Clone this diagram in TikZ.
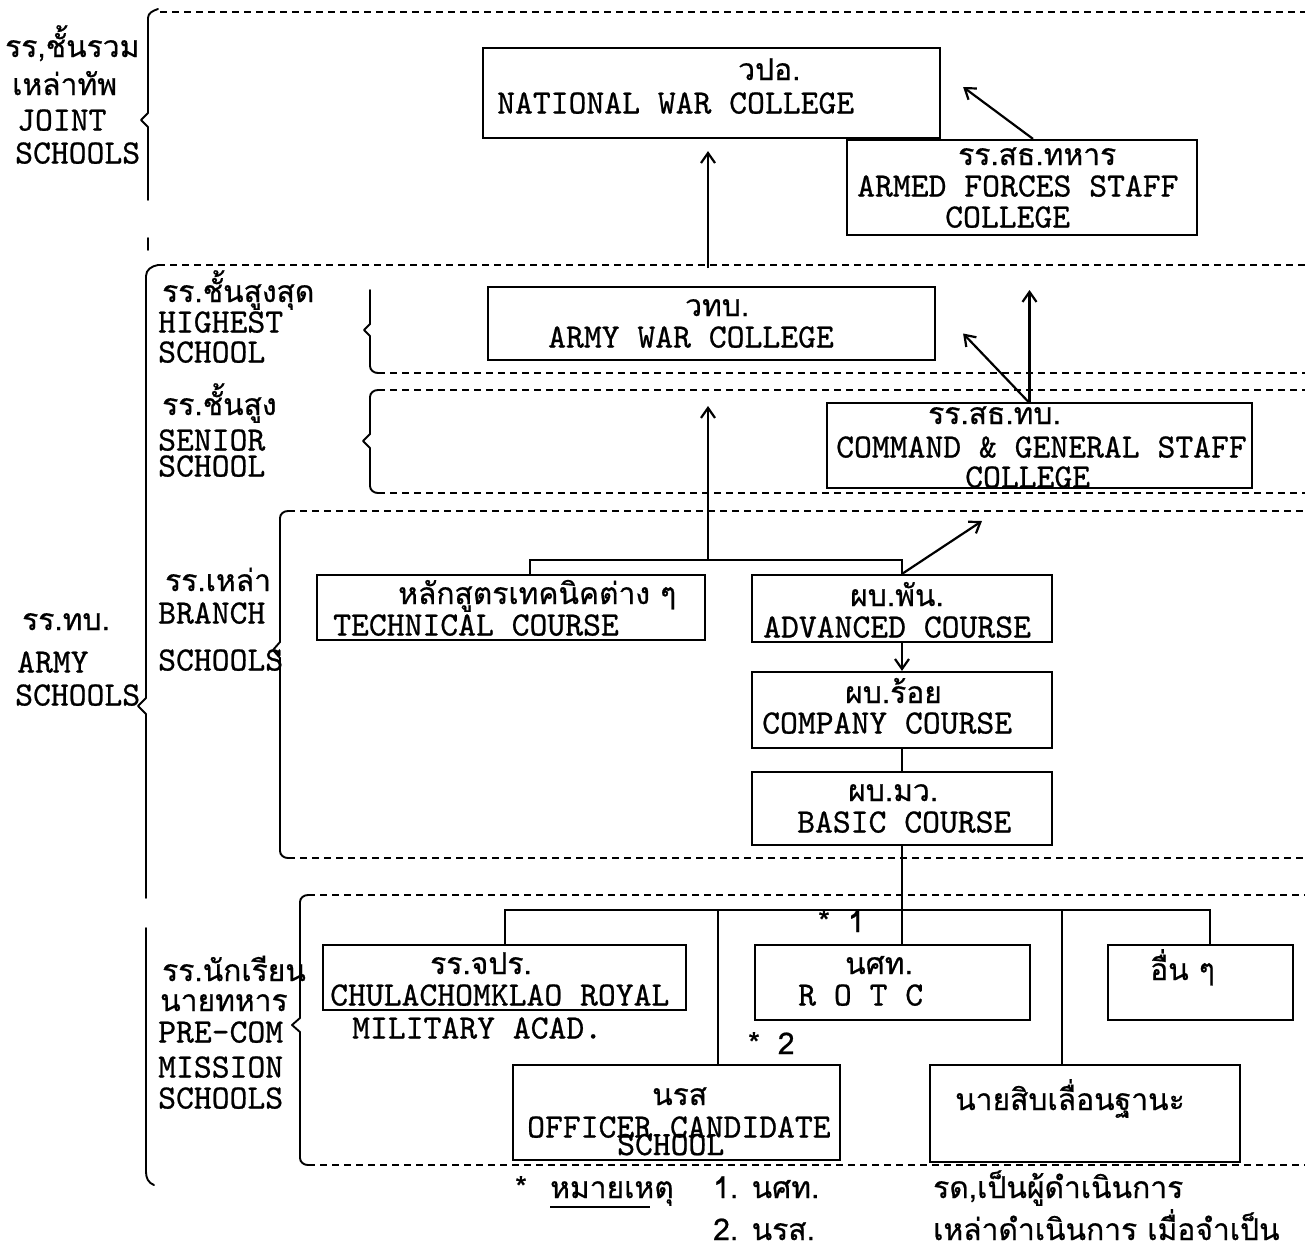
\documentclass[tikz,border=0pt]{standalone}
\usepackage{fontspec}
\setmainfont{Liberation Mono}
\newfontfamily\thaifam{Loma}[Script=Thai,FakeBold=0.6]
\newfontfamily\latfam{lmmono10-regular.otf}[FakeBold=0.7]
\usetikzlibrary{arrows.meta,calc}
\newcommand\thx{\thaifam\fontsize{30}{30}\selectfont}
\newcommand\latx{\latfam\fontsize{34}{30}\selectfont}
\tikzset{
  box/.style={draw, line width=2.2pt, inner sep=0pt},
  lt/.style={inner sep=0pt, anchor=base west, font=\latx},
  tt/.style={inner sep=0pt, anchor=base west, font=\thx},
  dline/.style={line width=1.5pt, dash pattern=on 7pt off 5pt},
  brk/.style={line width=1.9pt, line cap=round, line join=round},
  conn/.style={line width=2.2pt},
  arr/.style={line width=2.2pt, -{Straight Barb[length=10pt,width=14pt,line width=2.2pt]}},
}
\begin{document}
\begin{tikzpicture}[x=1pt,y=-1pt]
\useasboundingbox (0,0) rectangle (1311,1258);
\fill[white] (0,0) rectangle (1311,1258);

% ---------- dashed section lines ----------
\draw[dline] (160,12) -- (1305,12);
\draw[dline] (158,265) -- (1305,265);
\draw[dline] (378,373) -- (1305,373);
\draw[dline] (378,390) -- (1305,390);
\draw[dline] (378,493) -- (1305,493);
\draw[dline] (288,511) -- (1305,511);
\draw[dline] (288,858) -- (1305,858);
\draw[dline] (308,895) -- (1305,895);
\draw[dline] (308,1165) -- (1305,1165);

% ---------- brackets ----------
\draw[brk] (158,9) to[out=200,in=90] (148,18) -- (148,113) -- (141,120) -- (148,127) -- (148,200);
\draw[brk] (148,238) -- (148,250);
\draw[brk] (158,265) to[out=190,in=90] (146,276) -- (146,698) -- (138,706) -- (146,714) -- (146,898);
\draw[brk] (146,928) -- (146,1172) to[out=-90,in=160] (154,1185);
\draw[brk] (370,290) -- (370,324) -- (364,330) -- (370,336) -- (370,366) to[out=-90,in=180] (378,373);
\draw[brk] (378,390) to[out=180,in=90] (370,397) -- (370,434) -- (363,441) -- (370,448) -- (370,486) to[out=-90,in=180] (378,493);
\draw[brk] (288,511) to[out=180,in=90] (280,518) -- (280,642) -- (273,650) -- (280,658) -- (280,851) to[out=-90,in=180] (288,858);
\draw[brk] (308,895) to[out=180,in=90] (300,902) -- (300,1018) -- (292,1025) -- (300,1032) -- (300,1158) to[out=-90,in=180] (308,1165);

% ---------- left labels ----------
\node[tt] (j1t) at (5,57) {รร,ชั้นรวม};
\node[tt] (j2t) at (12,95) {เหล่าทัพ};
\node[lt] (j3t) at (17,130.5) {JOINT};
\node[lt] (j4t) at (15,163.5) {SCHOOLS};

\node[tt] (h1t) at (162,302) {รร.ชั้นสูงสุด};
\node[lt] (h2t) at (158,332.5) {HIGHEST};
\node[lt] (h3t) at (158,362.5) {SCHOOL};

\node[tt] (s1t) at (162,415) {รร.ชั้นสูง};
\node[lt] (s2t) at (158,450.5) {SENIOR};
\node[lt] (s3t) at (158,476.5) {SCHOOL};

\node[tt] (b1t) at (165,591) {รร.เหล่า};
\node[lt] (b2t) at (158,623.5) {BRANCH};
\node[lt] (b3t) at (158,670.5) {SCHOOLS};

\node[tt] (a1t) at (22,630) {รร.ทบ.};
\node[lt] (a2t) at (17,672.5) {ARMY};
\node[lt] (a3t) at (15,705.5) {SCHOOLS};

\node[tt] (p1t) at (162,981) {รร.นักเรียน};
\node[tt] (p2t) at (160,1011) {นายทหาร};
\node[lt] (p3t) at (158,1042.5) {PRE-COM};
\node[lt] (p4t) at (158,1077.5) {MISSION};
\node[lt] (p5t) at (158,1108.5) {SCHOOLS};

% ---------- boxes ----------
\node[box, minimum width=457, minimum height=90] (nwc) at (711.5,93) {};
\node[tt] (nwc1) at (738,80) {วปอ.};
\node[lt] (nwc2) at (497,113.5) {NATIONAL WAR COLLEGE};

\node[box, minimum width=350, minimum height=95] (afsc) at (1022,187.5) {};
\node[tt] (afsc1) at (958,165) {รร.สธ.ทหาร};
\node[lt] (afsc2) at (857,196.5) {ARMED FORCES STAFF};
\node[lt] (afsc3) at (945,227.5) {COLLEGE};

\node[box, minimum width=447, minimum height=73] (awc) at (711.5,323.5) {};
\node[tt] (awc1) at (685,316) {วทบ.};
\node[lt] (awc2) at (548,347.5) {ARMY WAR COLLEGE};

\node[box, minimum width=425, minimum height=85] (cgsc) at (1039.5,445.5) {};
\node[tt] (cgsc1) at (928,424) {รร.สธ.ทบ.};
\node[lt] (cgsc2) at (836,457.5) {COMMAND \& GENERAL STAFF};
\node[lt] (cgsc3) at (965,487.5) {COLLEGE};

\node[box, minimum width=388, minimum height=65] (tech) at (511,607.5) {};
\node[tt] (tech1) at (398,604) {หลักสูตรเทคนิคต่าง ๆ};
\node[lt] (tech2) at (333,635.5) {TECHNICAL COURSE};

\node[box, minimum width=300, minimum height=67] (adv) at (902,608.5) {};
\node[tt] (adv1) at (850,606) {ผบ.พัน.};
\node[lt] (adv2) at (763,637.5) {ADVANCED COURSE};

\node[box, minimum width=300, minimum height=76] (comp) at (902,710) {};
\node[tt] (comp1) at (845,703) {ผบ.ร้อย};
\node[lt] (comp2) at (762,733.5) {COMPANY COURSE};

\node[box, minimum width=300, minimum height=73] (basic) at (902,808.5) {};
\node[tt] (basic1) at (848,801) {ผบ.มว.};
\node[lt] (basic2) at (797,832.5) {BASIC COURSE};

\node[box, minimum width=363, minimum height=65] (crma) at (504.5,977.5) {};
\node[tt] (crma1) at (430,974) {รร.จปร.};
\node[lt] (crma2) at (330,1005.5) {CHULACHOMKLAO ROYAL};
\node[lt] (crma3) at (352,1038.5) {MILITARY ACAD.};

\node[box, minimum width=275, minimum height=75] (rotc) at (892.5,982.5) {};
\node[tt] (rotc1) at (845,974) {นศท.};
\node[lt] (rotc2) at (798,1005.5) {R O T C};

\node[box, minimum width=185, minimum height=75] (other) at (1200.5,982.5) {};
\node[tt] (other1) at (1150,980) {อื่น ๆ};

\node[box, minimum width=327, minimum height=95] (ocs) at (676.5,1112.5) {};
\node[tt] (ocs1) at (652,1105) {นรส};
\node[lt] (ocs2) at (527,1137.5) {OFFICER CANDIDATE};
\node[lt] (ocs3) at (617,1155) {SCHOOL};

\node[box, minimum width=310, minimum height=97] (nco) at (1085,1113.5) {};
\node[tt] (nco1) at (955,1110) {นายสิบเลื่อนฐานะ};

\node[tt] (star1) at (818,932) {*\hspace{18pt}1};
\node[tt] (star2) at (748,1054) {*\hspace{18pt}2};

% ---------- connectors ----------
\coordinate (u1) at (708,268);
\draw[arr, shorten >=12pt] (u1) -- (u1 |- nwc.south);
\draw[arr] ([shift={(11,0)}]afsc.north) -- ([shift={(22,-6)}]nwc.east);

\coordinate (c0) at (1029.5,403);
\coordinate (a3) at (1029.5,290);
\draw[arr] (c0) -- ([shift={(27,10)}]awc.east);
\draw[arr] (c0) -- (a3);

\coordinate (j1) at (530,560);
\coordinate (j0) at (708,560);
\coordinate (j2) at (902,560);
\coordinate (a1) at (708,406);
\coordinate (a2) at (982,521);
\draw[conn] (j1 |- tech.north) -- (j1) -- (j2) -- (adv.north);
\draw[arr] (j0) -- (a1);
\draw[arr] (adv.north) -- (a2);
\draw[arr] (adv.south) -- (comp.north);
\draw[conn] (comp.south) -- (basic.north);
\draw[conn] (basic.south) -- (basic.south |- rotc.north);

\coordinate (d1) at (505,910);
\coordinate (d2) at (718,910);
\coordinate (d4) at (1062,910);
\coordinate (d5) at (1210,910);
\draw[conn] (d1 |- crma.north) -- (d1) -- (d5) -- (d5 |- other.north);
\draw[conn] (d2) -- (d2 |- ocs.north);
\draw[conn] (d4) -- (d4 |- nco.north);

% ---------- notes ----------
\node[tt] (n0) at (515,1198) {*};
\node[tt] (n1) at (550,1198) {หมายเหตุ};
\draw[line width=1.8pt] (550,1207) -- (650,1207);
\node[tt] (n2) at (713,1198) {1. นศท.};
\node[tt] (n3) at (933,1198) {รด,เป็นผู้ดำเนินการ};
\node[tt] (n4) at (713,1240) {2. นรส.};
\node[tt] (n5) at (933,1240) {เหล่าดำเนินการ เมื่อจำเป็น};
\end{tikzpicture}
\end{document}
